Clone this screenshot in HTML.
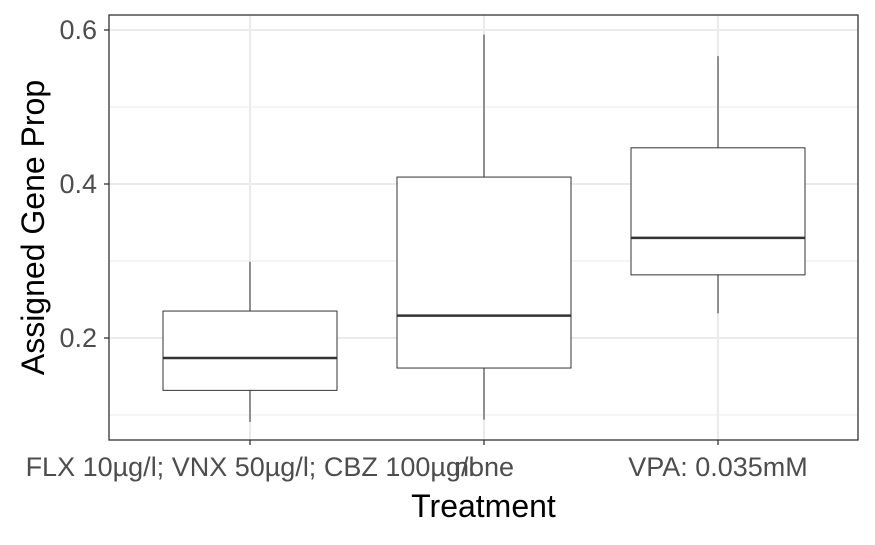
<!DOCTYPE html>
<html><head><meta charset="utf-8"><style>
body{margin:0;background:#fff;font-family:"Liberation Sans",Arial,sans-serif}
</style></head><body>
<svg id="c" width="875" height="540"></svg>
<script>
const categories=["FLX 10µg/l; VNX 50µg/l; CBZ 100µg/l","none","VPA: 0.035mM"];
const whiskerLow=[0.091,0.094,0.232];
const q1=[0.132,0.161,0.282];
const medians=[0.174,0.229,0.330];
const q3=[0.235,0.409,0.447];
const whiskerHigh=[0.299,0.594,0.566];
const majorTicks=[0.2,0.4,0.6];
const minorTicks=[0.1,0.3,0.5];
const tickLabels=["0.2","0.4","0.6"];

const svg=document.getElementById('c');
const NS='http://www.w3.org/2000/svg';
const L=109,R=858,T=15,B=440;
const y=v=>30+(0.6-v)*770;
const x=i=>250+i*234;
const bw=174;
function mk(tag,attrs,parent){const e=document.createElementNS(NS,tag);for(const k in attrs)e.setAttribute(k,attrs[k]);(parent||svg).appendChild(e);return e;}
minorTicks.forEach(v=>{const g=mk('line',{x1:L,x2:R,y1:y(v),y2:y(v),stroke:'#ebebeb','stroke-width':1});

});
majorTicks.forEach(v=>{const g=mk('line',{x1:L,x2:R,y1:y(v),y2:y(v),stroke:'#ebebeb','stroke-width':2});

});
categories.forEach((c,i)=>{const g=mk('line',{x1:x(i),x2:x(i),y1:T,y2:B,stroke:'#ebebeb','stroke-width':2});

});
categories.forEach((c,i)=>{
const g=mk('g',{});


mk('line',{x1:x(i),x2:x(i),y1:y(whiskerHigh[i]),y2:y(q3[i]),stroke:'#333','stroke-width':1},g);
mk('line',{x1:x(i),x2:x(i),y1:y(q1[i]),y2:y(whiskerLow[i]),stroke:'#333','stroke-width':1},g);
mk('rect',{x:x(i)-bw/2,y:y(q3[i]),width:bw,height:y(q1[i])-y(q3[i]),fill:'#fff',stroke:'#333','stroke-width':1},g);
mk('line',{x1:x(i)-bw/2,x2:x(i)+bw/2,y1:y(medians[i]),y2:y(medians[i]),stroke:'#333','stroke-width':2.5},g);
});
const p=mk('rect',{x:L,y:T,width:R-L,height:B-T,fill:'none',stroke:'#333','stroke-width':1.3});


majorTicks.forEach((v,i)=>{
mk('line',{x1:L-5,x2:L,y1:y(v),y2:y(v),stroke:'#333','stroke-width':1.3});
const t=mk('text',{x:L-12,y:y(v)+9,'text-anchor':'end','font-size':27,fill:'#4d4d4d'});
t.textContent=tickLabels[i];


});
categories.forEach((c,i)=>{
mk('line',{x1:x(i),x2:x(i),y1:B,y2:B+5,stroke:'#333','stroke-width':1.3});
const t=mk('text',{x:x(i),y:476,'text-anchor':'middle','font-size':27,fill:'#4d4d4d'});
t.textContent=c;


});
const xt=mk('text',{x:(L+R)/2,y:517,'text-anchor':'middle','font-size':32,fill:'#000'});
xt.textContent='Treatment';


const yt=mk('text',{x:0,y:0,'text-anchor':'middle','font-size':32,fill:'#000',transform:'translate(44,'+((T+B)/2)+') rotate(-90)'});
yt.textContent='Assigned Gene Prop';


</script>
</body></html>
